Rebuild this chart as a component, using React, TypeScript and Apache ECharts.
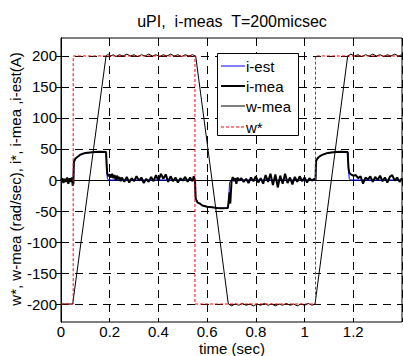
import React, { useEffect, useRef } from "react";
import * as echarts from "echarts";

const titleText = "uPI,  i-meas  T=200micsec";
const xName = "time (sec)";
const yName = "w*, w-mea (rad/sec), i*, i-mea ,i-est(A)";
const legendNames = ["i-est", "i-mea", "w-mea", "w*"];
const yTicks = [-200, -150, -100, -50, 0, 50, 100, 150, 200];

const wRef: number[][] = [
  [0, -200], [0.05, -200], [0.05, 200], [0.55, 200], [0.55, -200],
  [1.045, -200], [1.045, 200], [1.4, 200],
];

const wMea: number[][] = [
  [0, -200], [0.048, -200], [0.185, 200], [0.195, 203], [0.205, 200], [0.215, 202], [0.225, 199],
  [0.24, 202], [0.255, 200], [0.27, 203], [0.285, 200], [0.3, 202], [0.315, 199], [0.33, 202],
  [0.345, 200], [0.36, 203], [0.375, 200], [0.39, 202], [0.405, 199], [0.42, 202], [0.435, 200],
  [0.45, 203], [0.465, 200], [0.48, 202], [0.495, 199], [0.51, 202], [0.525, 200], [0.54, 202],
  [0.553, 200], [0.687, -200], [0.7, -203], [0.715, -200], [0.73, -202], [0.745, -199], [0.76, -202],
  [0.775, -200], [0.79, -203], [0.805, -200], [0.82, -202], [0.835, -199], [0.85, -202], [0.865, -200],
  [0.88, -203], [0.895, -200], [0.91, -202], [0.925, -199], [0.94, -202], [0.955, -200], [0.97, -203],
  [0.985, -200], [1.0, -202], [1.015, -199], [1.03, -202], [1.043, -200], [1.177, 200], [1.19, 203],
  [1.205, 200], [1.22, 202], [1.235, 199], [1.25, 202], [1.265, 200], [1.28, 203], [1.295, 200],
  [1.31, 202], [1.325, 199], [1.34, 202], [1.355, 200], [1.37, 203], [1.385, 200], [1.4, 202],
];

const iEst: number[][] = [
  [0, 0], [0.05, 0], [0.052, 28], [0.06, 34], [0.07, 37.5], [0.08, 40.5], [0.09, 42], [0.1, 43],
  [0.12, 44.5], [0.14, 45], [0.16, 45.5], [0.185, 45], [0.19, 3], [0.195, 0], [0.55, 0],
  [0.552, -28], [0.56, -35], [0.57, -38], [0.58, -40.5], [0.6, -43], [0.62, -44], [0.64, -45],
  [0.66, -45.5], [0.687, -45], [0.692, -4], [0.7, 0], [1.045, 0], [1.047, 29], [1.055, 35],
  [1.065, 38.5], [1.075, 41], [1.09, 43], [1.11, 44.5], [1.13, 45], [1.15, 45.5], [1.178, 45],
  [1.183, 2], [1.19, 0], [1.4, 0],
];

const iMea: number[][] = [
  [0, -2], [0.005, 3], [0.01, -5], [0.015, 2], [0.02, -3], [0.025, 4], [0.03, -6], [0.035, 3],
  [0.04, -3], [0.045, 4], [0.048, -9], [0.051, -6], [0.053, 30], [0.06, 35], [0.07, 38], [0.08, 41],
  [0.09, 42.5], [0.1, 43.5], [0.12, 44.5], [0.14, 45], [0.16, 45.5], [0.185, 45], [0.188, 20],
  [0.19, 10], [0.195, 6], [0.2, 9], [0.205, 4], [0.21, 10], [0.215, 3], [0.22, 8], [0.225, -1],
  [0.23, 7], [0.235, 1], [0.24, 5], [0.245, -2], [0.25, 4], [0.26, -3], [0.27, 5], [0.28, -4],
  [0.29, 3], [0.3, -2], [0.31, 6], [0.32, -1], [0.33, 4], [0.34, -5], [0.35, 2], [0.36, -3],
  [0.37, 5], [0.38, -2], [0.39, 8], [0.4, -1], [0.41, 10], [0.42, 2], [0.43, 9], [0.44, -3],
  [0.45, 6], [0.46, -2], [0.47, 4], [0.48, -4], [0.49, 3], [0.5, -1], [0.51, 5], [0.52, -3],
  [0.53, 4], [0.54, -2], [0.545, 6], [0.55, 0], [0.553, -30], [0.56, -36], [0.57, -38], [0.58, -41],
  [0.6, -43], [0.62, -44], [0.64, -45], [0.66, -45.5], [0.685, -45], [0.688, -35], [0.692, -20],
  [0.695, -38], [0.7, -3], [0.705, 5], [0.71, -2], [0.715, 3], [0.72, -6], [0.725, 4], [0.73, -1],
  [0.74, 3], [0.75, -3], [0.76, 2], [0.77, -5], [0.78, 4], [0.79, -2], [0.8, 6], [0.81, -4],
  [0.82, 3], [0.83, -6], [0.84, 8], [0.85, -3], [0.86, 10], [0.87, -8], [0.88, 9], [0.89, -12],
  [0.9, 7], [0.91, -6], [0.92, 10], [0.93, -5], [0.94, 4], [0.95, -7], [0.96, 5], [0.97, -3],
  [0.98, 6], [0.99, -2], [1.0, 4], [1.01, -4], [1.02, 3], [1.03, -1], [1.04, 2], [1.045, 0],
  [1.047, 31], [1.055, 36], [1.065, 39], [1.075, 41], [1.09, 43], [1.11, 44.5], [1.13, 45],
  [1.15, 45.5], [1.177, 45], [1.18, 20], [1.183, 12], [1.19, 9], [1.2, 7], [1.21, 8], [1.22, 3],
  [1.23, 6], [1.24, -6], [1.25, 4], [1.26, 1], [1.27, 6], [1.28, -3], [1.29, 5], [1.3, 0],
  [1.31, 7], [1.32, -2], [1.33, 4], [1.34, -4], [1.35, 5], [1.36, 8], [1.37, -1], [1.38, 4],
  [1.39, -3], [1.4, 3],
];

const FONT = "'Liberation Sans', Arial, Helvetica, sans-serif";

export default function App() {
  const ref = useRef<HTMLDivElement>(null);
  useEffect(() => {
    document.body.style.margin = "0";
    if (!ref.current) return;
    const chart = echarts.init(ref.current, undefined, { renderer: "svg" });
    const gridLine = { show: true, lineStyle: { color: "#000", width: 1, type: [8, 6] as any } };
    const axisLine = { show: true, lineStyle: { color: "#000", width: 1 } };
    const tick = { show: true, inside: true, length: 5, lineStyle: { color: "#000" } };
    const legendY = [66, 86, 106, 127];
    const legendStyles = [
      { stroke: "#0000ff", lineWidth: 1 },
      { stroke: "#000", lineWidth: 2 },
      { stroke: "#000", lineWidth: 1 },
      { stroke: "#ff0000", lineWidth: 1, lineDash: [3, 2] },
    ];
    const graphics: any[] = [
      { type: "text", x: 232, y: 21, style: { text: titleText, fontSize: 16, fontFamily: FONT, fill: "#000", align: "center", verticalAlign: "middle" } },
      { type: "text", x: 232, y: 348.5, style: { text: xName, fontSize: 15, fontFamily: FONT, fill: "#000", align: "center", verticalAlign: "middle" } },
      { type: "text", x: 15, y: 179, rotation: Math.PI / 2, style: { text: yName, fontSize: 15, fontFamily: FONT, fill: "#000", align: "center", verticalAlign: "middle" } },
      { type: "rect", z: 100, shape: { x: 217.5, y: 53.5, width: 81, height: 82 }, style: { fill: "#fff", stroke: "#000", lineWidth: 1 } },
    ];
    legendNames.forEach((n, i) => {
      graphics.push({
        type: "line", z: 101,
        shape: { x1: 221, y1: legendY[i], x2: 245, y2: legendY[i] },
        style: legendStyles[i],
      });
      graphics.push({
        type: "text", z: 101,
        x: 246,
        y: legendY[i],
        style: { text: n, fontSize: 15, fontFamily: FONT, fill: "#000", verticalAlign: "middle", align: "left" },
      });
    });
    chart.setOption({
      animation: false,
      backgroundColor: "#fff",
      grid: { left: 61, top: 38, width: 341, height: 284, show: true, borderColor: "#000", borderWidth: 1, backgroundColor: "transparent" },
      xAxis: [
        {
          type: "value", min: 0, max: 1.4, interval: 0.2, position: "bottom",
          axisLine, axisTick: tick,
          axisLabel: {
            color: "#000", fontSize: 15, fontFamily: FONT, margin: 2, showMaxLabel: false,
            formatter: (v: number) => String(Math.round(v * 10) / 10),
          },
          splitLine: gridLine,
        },
        {
          type: "value", min: 0, max: 1.4, interval: 0.2, position: "top",
          axisLine, axisTick: tick, axisLabel: { show: false }, splitLine: { show: false },
        },
      ],
      yAxis: [
        {
          type: "value", min: -229, max: 229, position: "left",
          axisLine, axisTick: { ...tick, customValues: yTicks },
          axisLabel: { color: "#000", fontSize: 15, fontFamily: FONT, margin: 4, customValues: yTicks },
          splitLine: gridLine,
        },
        {
          type: "value", min: -229, max: 229, position: "right",
          axisLine, axisTick: { ...tick, customValues: yTicks },
          axisLabel: { show: false, customValues: yTicks }, splitLine: { show: false },
        },
      ],
      series: [
        { name: "i-est", type: "line", data: iEst, showSymbol: false, symbol: "none", lineStyle: { color: "#0000ff", width: 1 }, z: 2 },
        { name: "i-mea", type: "line", data: iMea, showSymbol: false, symbol: "none", lineStyle: { color: "#000", width: 2 }, z: 3 },
        { name: "w-mea", type: "line", data: wMea, showSymbol: false, symbol: "none", lineStyle: { color: "#000", width: 1 }, z: 4 },
        { name: "w*", type: "line", data: wRef, showSymbol: false, symbol: "none", lineStyle: { color: "#ff0000", width: 1, type: [3, 2] as any }, z: 5 },
      ],
      graphic: graphics,
    });
    return () => chart.dispose();
  }, []);
  return <div ref={ref} style={{ position: "absolute", left: 0, top: 0, width: 403, height: 356 }} />;
}
